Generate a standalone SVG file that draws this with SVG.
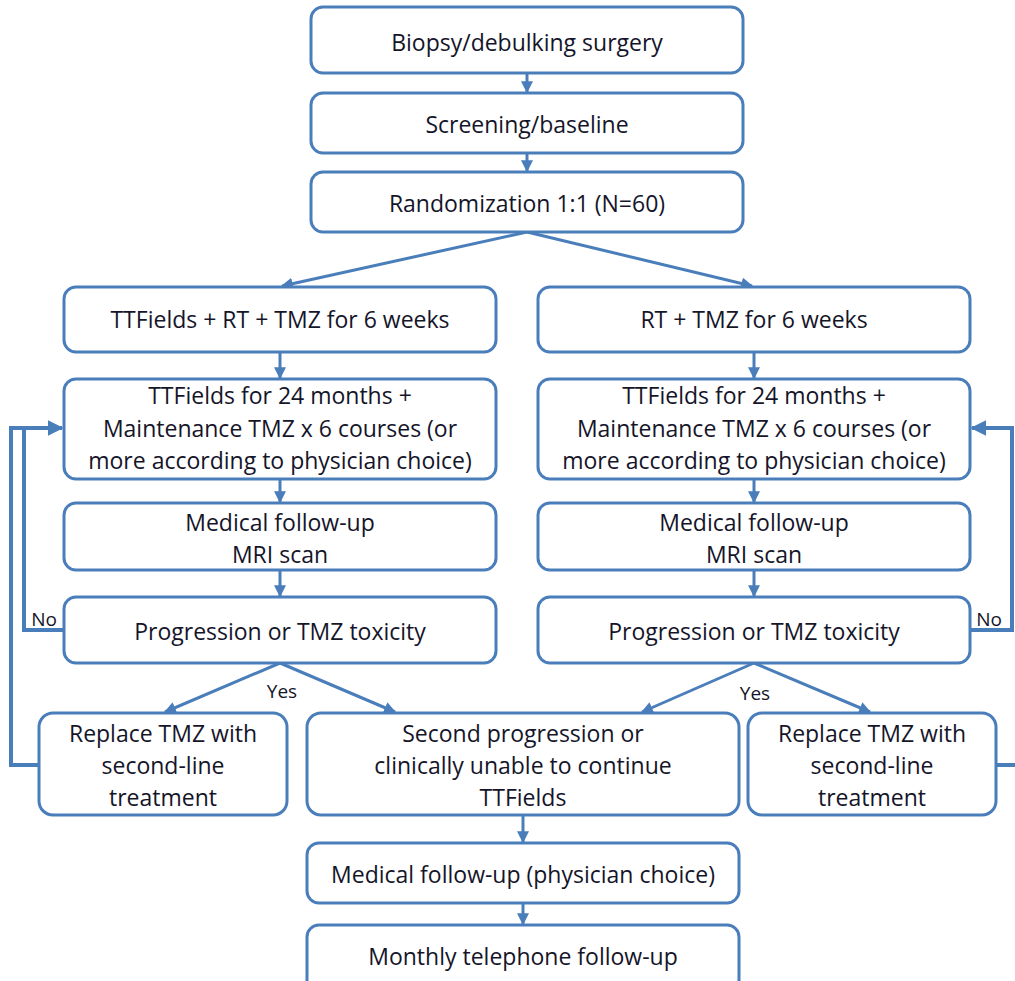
<svg xmlns="http://www.w3.org/2000/svg" width="1015" height="981" viewBox="0 0 1015 981">
<defs>
<style>
.box{fill:#fff;stroke:#4a7ebb;stroke-width:3}
.t{font-family:"Open Sans","Liberation Sans",sans-serif;font-size:23px;fill:#15152a;text-anchor:middle}
.s{font-family:"Open Sans","Liberation Sans",sans-serif;font-size:19px;fill:#15152a;text-anchor:middle}
.c{fill:none;stroke:#4a7ebb;stroke-width:3}
.c2{fill:none;stroke:#4a7ebb;stroke-width:4}
</style>
<marker id="ah" viewBox="0 0 10 10" refX="9" refY="5" markerWidth="4" markerHeight="4" orient="auto" markerUnits="strokeWidth">
<path d="M0,0 L10,5 L0,10 z" fill="#4a7ebb"/>
</marker>
</defs>
<rect width="1015" height="981" fill="#fff"/>
<g id="connectors">
<line class="c" x1="527" y1="73" x2="527" y2="92" marker-end="url(#ah)"/>
<line class="c" x1="527" y1="153" x2="527" y2="171" marker-end="url(#ah)"/>
<line class="c" x1="527" y1="232" x2="282" y2="286" marker-end="url(#ah)"/>
<line class="c" x1="527" y1="232" x2="752" y2="286" marker-end="url(#ah)"/>
<line class="c" x1="280" y1="352" x2="280" y2="378" marker-end="url(#ah)"/>
<line class="c" x1="754" y1="352" x2="754" y2="378" marker-end="url(#ah)"/>
<line class="c" x1="280" y1="479" x2="280" y2="502" marker-end="url(#ah)"/>
<line class="c" x1="754" y1="479" x2="754" y2="502" marker-end="url(#ah)"/>
<line class="c" x1="280" y1="570" x2="280" y2="596" marker-end="url(#ah)"/>
<line class="c" x1="754" y1="570" x2="754" y2="596" marker-end="url(#ah)"/>
<line class="c" x1="280" y1="663" x2="165" y2="712" marker-end="url(#ah)"/>
<line class="c" x1="280" y1="663" x2="395" y2="712" marker-end="url(#ah)"/>
<line class="c" x1="754" y1="663" x2="642" y2="712" marker-end="url(#ah)"/>
<line class="c" x1="754" y1="663" x2="870" y2="712" marker-end="url(#ah)"/>
<line class="c" x1="523" y1="815" x2="523" y2="842" marker-end="url(#ah)"/>
<line class="c" x1="523" y1="903" x2="523" y2="924" marker-end="url(#ah)"/>
<polyline class="c2" points="64,630 24,630 24,428 62,428" marker-end="url(#ah)"/>
<polyline class="c2" points="39,765 11,765 11,428 26,428"/>
<polyline class="c2" points="970,630 1012,630 1012,428 972,428" marker-end="url(#ah)"/>
<line class="c2" x1="996" y1="765" x2="1015" y2="765"/>
<text class="s" x="44" y="626">No</text>
<text class="s" x="989" y="626">No</text>
<text class="s" x="282" y="698">Yes</text>
<text class="s" x="755" y="700">Yes</text>
</g>
<g id="n1"><rect class="box" x="311" y="7" width="432" height="66" rx="12"/><text class="t" x="527" y="51">Biopsy/debulking surgery</text></g>
<g id="n2"><rect class="box" x="311" y="93" width="432" height="60" rx="12"/><text class="t" x="527" y="133">Screening/baseline</text></g>
<g id="n3"><rect class="box" x="311" y="172" width="432" height="60" rx="12"/><text class="t" x="527" y="212">Randomization 1:1 (N=60)</text></g>
<g id="n4"><rect class="box" x="64" y="287" width="432" height="65" rx="12"/><text class="t" x="280" y="328">TTFields + RT + TMZ for 6 weeks</text></g>
<g id="n5"><rect class="box" x="538" y="287" width="432" height="65" rx="12"/><text class="t" x="754" y="328">RT + TMZ for 6 weeks</text></g>
<g id="n6"><rect class="box" x="64" y="379" width="432" height="100" rx="12"/><text class="t" x="280" y="404">TTFields for 24 months +</text><text class="t" x="280" y="437">Maintenance TMZ x 6 courses (or</text><text class="t" x="280" y="469">more according to physician choice)</text></g>
<g id="n7"><rect class="box" x="538" y="379" width="432" height="100" rx="12"/><text class="t" x="754" y="404">TTFields for 24 months +</text><text class="t" x="754" y="437">Maintenance TMZ x 6 courses (or</text><text class="t" x="754" y="469">more according to physician choice)</text></g>
<g id="n8"><rect class="box" x="64" y="503" width="432" height="67" rx="12"/><text class="t" x="280" y="531">Medical follow-up</text><text class="t" x="280" y="563">MRI scan</text></g>
<g id="n9"><rect class="box" x="538" y="503" width="432" height="67" rx="12"/><text class="t" x="754" y="531">Medical follow-up</text><text class="t" x="754" y="563">MRI scan</text></g>
<g id="n10"><rect class="box" x="64" y="597" width="432" height="66" rx="12"/><text class="t" x="280" y="640">Progression or TMZ toxicity</text></g>
<g id="n11"><rect class="box" x="538" y="597" width="432" height="66" rx="12"/><text class="t" x="754" y="640">Progression or TMZ toxicity</text></g>
<g id="n12"><rect class="box" x="39" y="713" width="248" height="102" rx="14"/><text class="t" x="163" y="742">Replace TMZ with</text><text class="t" x="163" y="774">second-line</text><text class="t" x="163" y="806">treatment</text></g>
<g id="n13"><rect class="box" x="307" y="713" width="432" height="102" rx="14"/><text class="t" x="523" y="742">Second progression or</text><text class="t" x="523" y="774">clinically unable to continue</text><text class="t" x="523" y="806">TTFields</text></g>
<g id="n14"><rect class="box" x="748" y="713" width="248" height="102" rx="14"/><text class="t" x="872" y="742">Replace TMZ with</text><text class="t" x="872" y="774">second-line</text><text class="t" x="872" y="806">treatment</text></g>
<g id="n15"><rect class="box" x="307" y="843" width="432" height="60" rx="12"/><text class="t" x="523" y="883">Medical follow-up (physician choice)</text></g>
<g id="n16"><rect class="box" x="307" y="925" width="432" height="70" rx="12"/><text class="t" x="523" y="965">Monthly telephone follow-up</text></g>
</svg>
